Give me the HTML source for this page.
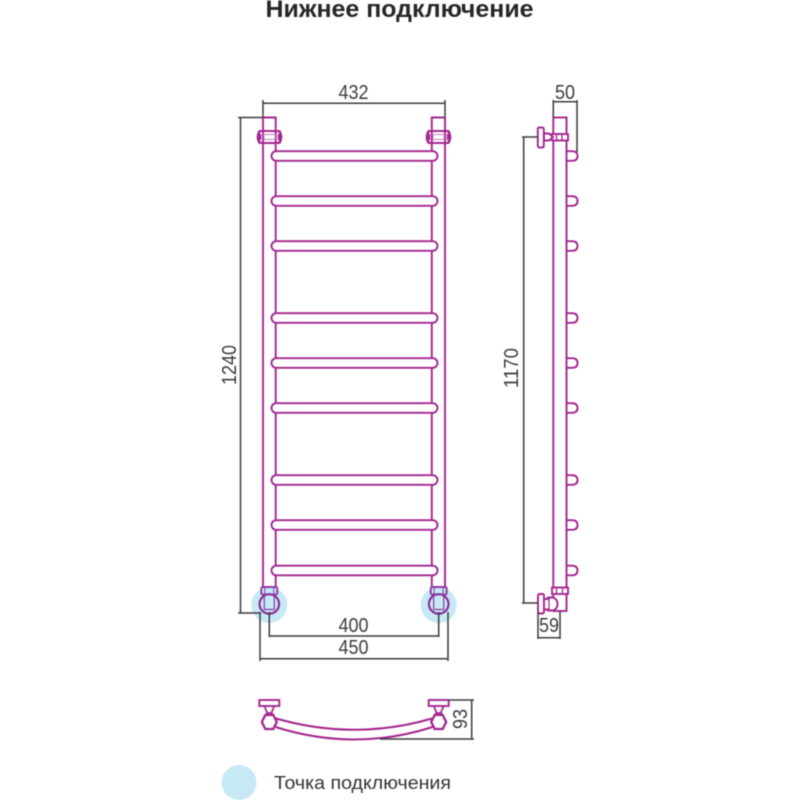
<!DOCTYPE html>
<html><head><meta charset="utf-8"><style>
html,body{margin:0;padding:0;background:#fff;width:800px;height:800px;overflow:hidden}
svg{display:block;filter:blur(0.4px)}
text{font-family:"Liberation Sans","Noto Sans CJK SC",sans-serif}
.dim{font-family:"Liberation Sans Narrow","Liberation Sans",sans-serif;font-size:20px;fill:#3c3c3c}
</style></head><body>
<svg width="800" height="800" viewBox="0 0 800 800" xmlns="http://www.w3.org/2000/svg">
<defs>
<g id="bar"><rect x="271.5" y="-4.8" width="166" height="9.6" rx="4.8" fill="#fff" stroke="#a3268f" stroke-width="1.9"/></g>
<g id="bump"><path d="M567 -4.8H572Q577.5 -4.8 577.5 0Q577.5 4.8 572 4.8H567" fill="#fff" stroke="#a3268f" stroke-width="1.9"/></g>
<g id="topfit">
<path d="M0 -6.5Q-4 0 0 6.5M19 -6.5Q23 0 19 6.5" fill="#fff" stroke="#a3268f" stroke-width="2.6"/>
<path d="M0 -3V3M19 -3V3" stroke="#a3268f" stroke-width="2.4"/>
<path d="M0 -6H19M0 6H19" stroke="#a3268f" stroke-width="1.9"/>
<rect x="4" y="-2.5" width="11" height="5" fill="#fff" stroke="#c68ac0" stroke-width="1.1"/>
</g>
<g id="botfit">
<circle cx="0" cy="8" r="18" fill="#c6e9f5"/>
<rect x="-8" y="-10" width="16" height="7.5" rx="1.5" fill="none" stroke="#8d3aa0" stroke-width="1.9"/>
<path d="M-4.5 -10V-2.5M4.5 -10V-2.5" stroke="#8d3aa0" stroke-width="1"/>
<circle cx="0" cy="7" r="9.8" fill="none" stroke="#8a2a94" stroke-width="2.1"/>
<rect x="-5" y="-2.5" width="10" height="15" fill="none" stroke="#8d3aa0" stroke-width="1.2"/>
</g>
<g id="plate">
<rect x="-10" y="-22" width="20" height="6" fill="#fff" stroke="#a3268f" stroke-width="1.9"/>
<path d="M-5 -16L-2 -9H2L5 -16M-3 -9V-7H3V-9" fill="none" stroke="#a3268f" stroke-width="1.7"/>
<path d="M-4 -7H4L7.5 0L4 7H-4L-7.5 0Z" fill="#fff" stroke="#a3268f" stroke-width="2.3"/>
</g>
</defs>

<text x="399.5" y="17" text-anchor="middle" font-size="24" font-weight="bold" fill="#262626" textLength="268" lengthAdjust="spacingAndGlyphs">Нижнее подключение</text>

<g fill="none" stroke="#a3268f" stroke-width="1.9">
<path d="M263 587V117.5H275.7V587"/>
<path d="M431.8 587V117.5H445V587"/>
</g>
<use href="#bar" y="156"/><use href="#bar" y="201"/><use href="#bar" y="246"/>
<use href="#bar" y="318"/><use href="#bar" y="363"/><use href="#bar" y="408"/>
<use href="#bar" y="480"/><use href="#bar" y="525"/><use href="#bar" y="570.5"/>
<use href="#topfit" x="260" y="137"/>
<use href="#topfit" x="429" y="137"/>
<use href="#botfit" x="269.3" y="597"/>
<use href="#botfit" x="438.7" y="597"/>

<use href="#bump" y="156"/><use href="#bump" y="201"/><use href="#bump" y="246"/>
<use href="#bump" y="318"/><use href="#bump" y="363"/><use href="#bump" y="408"/>
<use href="#bump" y="480"/><use href="#bump" y="525"/><use href="#bump" y="570.5"/>
<g fill="none" stroke="#a3268f" stroke-width="1.9">
<rect x="553.3" y="117.5" width="13.2" height="493.5" fill="#fff"/>
<rect x="552" y="134" width="16" height="6.5" fill="#fff"/>
<path d="M556.5 134V140.5M562 134V140.5" stroke-width="1.3"/>
<rect x="537.8" y="127.5" width="6" height="20" rx="1.5" fill="#fff"/>
<path d="M544 133.5H549L553 137L549 140.5H544Z" fill="#fff"/>
<rect x="552" y="587.5" width="16" height="6.5" fill="#fff"/>
<path d="M556.5 587.5V594M562.5 587.5V594" stroke-width="1.3"/>
<rect x="538" y="594" width="6" height="19.5" rx="1.5" fill="#fff"/>
<path d="M544 599H548V597.5H553Q557.5 599 557.5 604Q557.5 609 553 610.5H548V609.5H544Z" fill="#fff"/>
<path d="M549 598V610" stroke-width="1.2"/>
</g>

<g fill="none" stroke="#a3268f" stroke-width="2">
<path d="M276 718.5Q355 741 432 718.5"/>
<path d="M275.5 727Q355 752 432.5 727"/>
</g>
<use href="#plate" x="269.3" y="722"/>
<use href="#plate" x="438.7" y="722"/>

<g fill="none" stroke="#3c3c3c" stroke-width="1.5">
<path d="M263 100V117M445 100V117M263 103.3H445"/>
<path d="M238 117.5H263M240.5 117.5V613M238 613H261"/>
<path d="M269.3 612V637M438.7 612V637M269.3 636H438.7"/>
<path d="M260 612V661M448 612V661M260 658.7H448"/>
<path d="M553.3 100V117M577 100V152M553.3 101.7H577"/>
<path d="M522 137H538M523.7 137V603M522 603H538"/>
<path d="M538 612V639M560 611V639M538 637.7H560"/>
<path d="M449 700H474M380 739H474M471.7 700V739"/>
</g>
<g>
<text class="dim" x="353.5" y="99" text-anchor="middle" textLength="30" lengthAdjust="spacingAndGlyphs">432</text>
<text class="dim" x="353.5" y="632" text-anchor="middle" textLength="30" lengthAdjust="spacingAndGlyphs">400</text>
<text class="dim" x="353.5" y="654" text-anchor="middle" textLength="30" lengthAdjust="spacingAndGlyphs">450</text>
<text class="dim" x="565" y="99" text-anchor="middle" textLength="20" lengthAdjust="spacingAndGlyphs">50</text>
<text class="dim" x="549" y="632" text-anchor="middle" textLength="20" lengthAdjust="spacingAndGlyphs">59</text>
<text class="dim" transform="translate(236,365) rotate(-90)" text-anchor="middle" textLength="40" lengthAdjust="spacingAndGlyphs">1240</text>
<text class="dim" transform="translate(518,368) rotate(-90)" text-anchor="middle" textLength="40" lengthAdjust="spacingAndGlyphs">1170</text>
<text class="dim" transform="translate(467,719) rotate(-90)" text-anchor="middle" textLength="20" lengthAdjust="spacingAndGlyphs">93</text>
</g>

<circle cx="239" cy="782.5" r="17.5" fill="#c6e9f5"/>
<text x="274" y="789" font-size="18" fill="#333" textLength="177" lengthAdjust="spacingAndGlyphs">Точка подключения</text>
</svg>
</body></html>
